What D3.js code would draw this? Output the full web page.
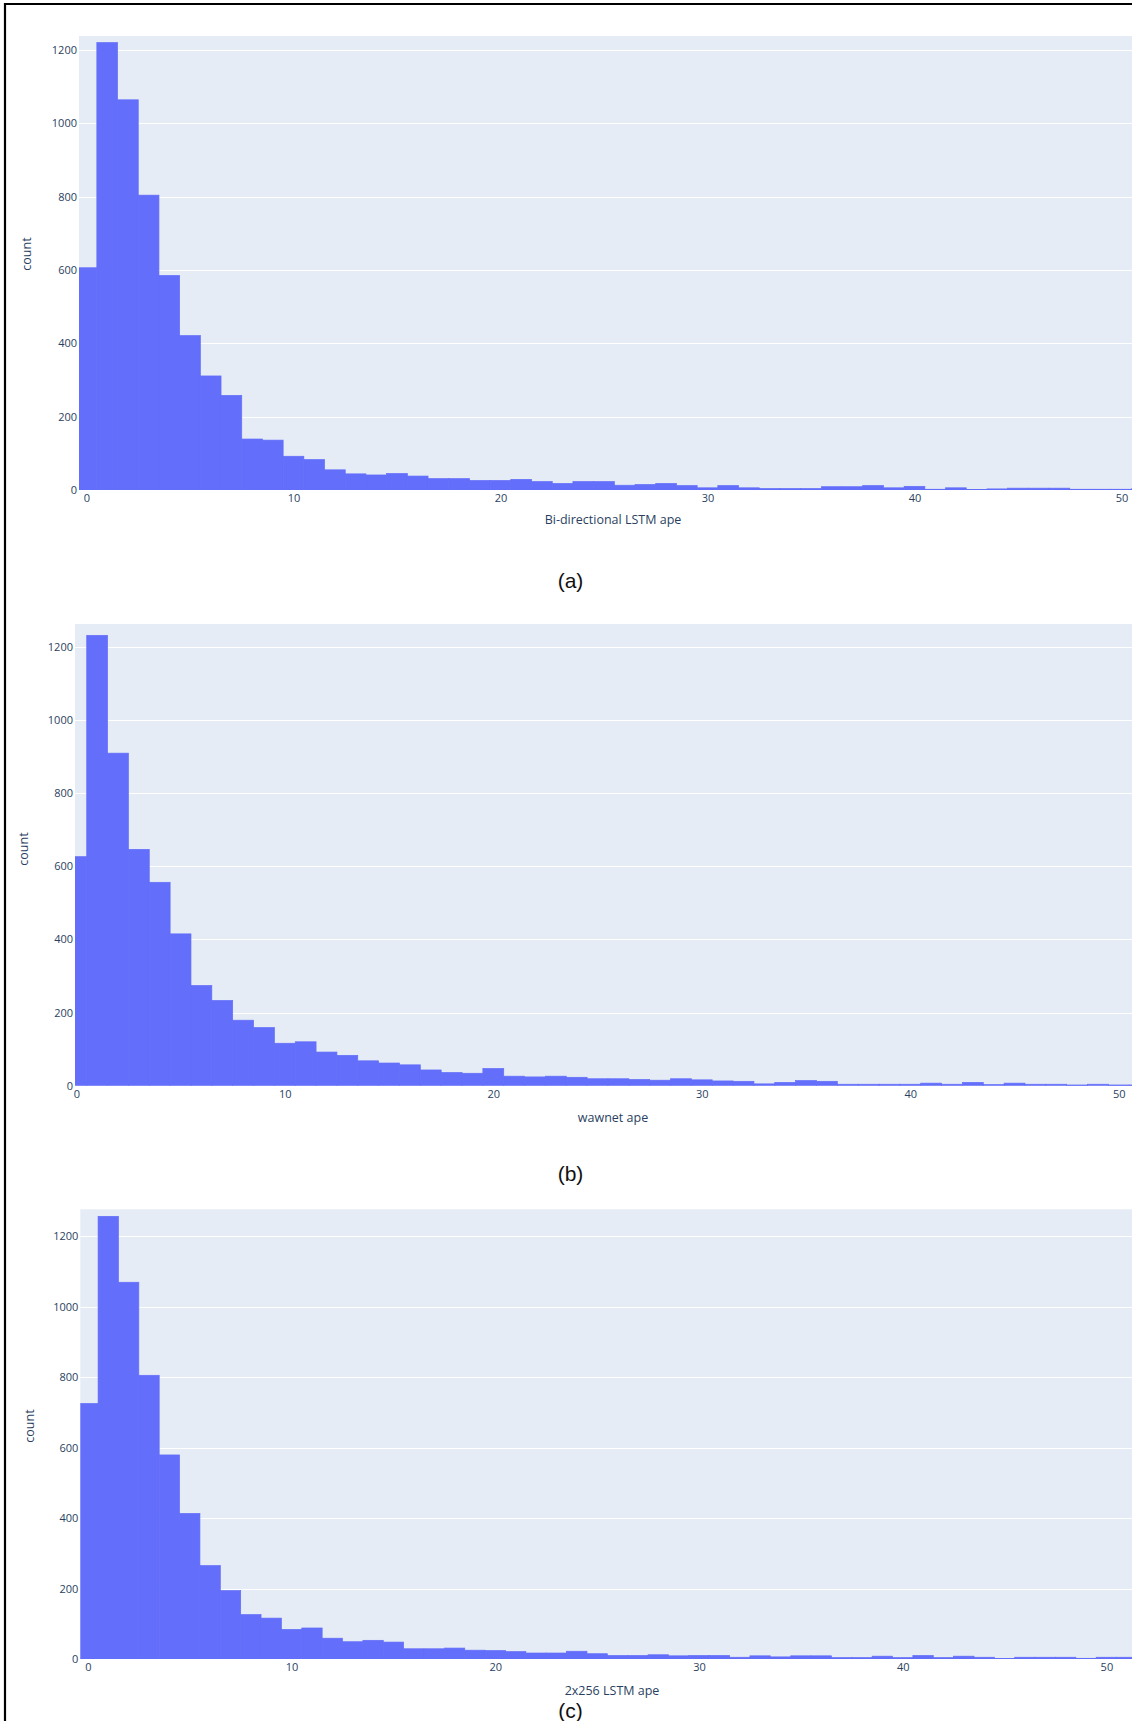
<!DOCTYPE html>
<html><head><meta charset="utf-8">
<script src="https://cdn.jsdelivr.net/npm/d3@7"></script>
<style>body{margin:0;background:#fff;overflow:hidden}</style>
</head><body>
<svg id="chart" width="1132" height="1721"></svg>
<script>
// ---- data ----
const binCenters = [0,1,2,3,4,5,6,7,8,9,10,11,12,13,14,15,16,17,18,19,20,21,22,23,24,25,
  26,27,28,29,30,31,32,33,34,35,36,37,38,39,40,41,42,43,44,45,46,47,48,49,50,51];
const binWidth = 1;

const bidirCounts = [606,1220,1064,804,585,421,311,258,139,136,92,83,55,44,41,45,38,31,31,26,26,29,23,18,23,23,
  13,15,18,12,6,12,6,4,4,4,9,9,12,6,10,2,6,1,3,5,5,5,2,2,2,4];
const wawnetCounts = [626,1231,909,646,556,415,274,233,179,159,116,120,92,83,68,62,57,43,36,34,47,26,24,26,23,19,
  19,17,15,19,16,13,12,5,9,14,12,4,4,4,4,7,4,9,3,7,4,4,2,4,2,2];
const lstm256Counts = [725,1256,1069,805,579,413,265,194,126,116,84,88,59,49,53,48,29,29,31,25,24,21,17,17,22,15,
  10,10,12,9,10,10,5,9,6,9,9,4,4,8,4,10,4,8,5,1,5,5,5,2,5,5];

const xTicks = [0,10,20,30,40,50];
const yTicks = [0,200,400,600,800,1000,1200];
const xTitles = ["Bi-directional LSTM ape","wawnet ape","2x256 LSTM ape"];
const captions = ["(a)","(b)","(c)"];
const yTitle = "count";

// ---- layout ----
const W = 1132, H = 1721;
const layout = [
  {left:79,   top:36,     bottom:490,    xmin:-0.362, ppu:20.70, ymax:1238, countX:26.7, countY:254,  titleX:613, titleY:519,  capY:588},
  {left:75,   top:624,    bottom:1085.7, xmin:-0.062, ppu:20.85, ymax:1262, countX:23.5, countY:849,  titleX:613, titleY:1117, capY:1181},
  {left:80.3, top:1209.3, bottom:1659,   xmin:-0.373, ppu:20.37, ymax:1276, countX:29.3, countY:1426, titleX:612, titleY:1690, capY:1718}
];
const seriesList = [bidirCounts, wawnetCounts, lstm256Counts];

const svg = d3.select("#chart");
svg.append("rect").attr("width",W).attr("height",H).attr("fill","#fff");

const tickColor = "#2a3f5f";
const fontFam = "'Open Sans', 'Noto Sans', Arial, sans-serif";

layout.forEach((L, p) => {
  const counts = seriesList[p];
  const x = d3.scaleLinear().domain([L.xmin, L.xmin + (W - L.left) / L.ppu]).range([L.left, W]);
  const y = d3.scaleLinear().domain([0, L.ymax]).range([L.bottom, L.top]);
  const g = svg.append("g");

  const clipId = "clip" + p;
  svg.append("clipPath").attr("id", clipId).append("rect")
    .attr("x", L.left).attr("y", L.top).attr("width", W - L.left).attr("height", L.bottom - L.top);

  g.append("rect").attr("x", L.left).attr("y", L.top)
    .attr("width", W - L.left).attr("height", L.bottom - L.top).attr("fill", "#E5ECF6");

  // gridlines
  g.append("g").selectAll("line").data(yTicks.filter(d => d > 0)).join("line")
    .attr("x1", L.left).attr("x2", W)
    .attr("y1", d => Math.round(y(d)) + 0.5).attr("y2", d => Math.round(y(d)) + 0.5)
    .attr("stroke", "#fff").attr("stroke-width", 1);

  // bars
  g.append("g").attr("clip-path", `url(#${clipId})`)
    .selectAll("rect").data(binCenters.map((c, i) => ({c, v: counts[i]}))).join("rect")
    .attr("x", d => x(d.c - binWidth / 2))
    .attr("width", d => x(d.c + binWidth / 2) - x(d.c - binWidth / 2))
    .attr("y", d => y(d.v))
    .attr("height", d => L.bottom - y(d.v))
    .attr("fill", "#636efa")
    .attr("stroke", "#636efa").attr("stroke-width", 0.7);

  // y axis
  const ya = g.append("g").attr("transform", `translate(${L.left},0)`)
    .call(d3.axisLeft(y).tickValues(yTicks).tickSize(0).tickPadding(2).tickFormat(d3.format("d")));
  ya.select(".domain").remove();
  ya.selectAll("text").attr("fill", tickColor).style("font-family", fontFam).style("font-size", "11px");

  // x axis
  const xa = g.append("g").attr("transform", `translate(0,${L.bottom})`)
    .call(d3.axisBottom(x).tickValues(xTicks).tickSize(0).tickPadding(4).tickFormat(d3.format("d")));
  xa.select(".domain").remove();
  xa.selectAll("text").attr("fill", tickColor).style("font-family", fontFam).style("font-size", "11px");

  // axis titles
  g.append("text").attr("x", L.titleX).attr("y", L.titleY)
    .attr("text-anchor", "middle").attr("dominant-baseline", "central")
    .attr("fill", tickColor).style("font-family", fontFam).style("font-size", "12.5px")
    .text(xTitles[p]);
  g.append("text").attr("transform", `translate(${L.countX},${L.countY}) rotate(-90)`)
    .attr("text-anchor", "middle").attr("dominant-baseline", "central")
    .attr("fill", tickColor).style("font-family", fontFam).style("font-size", "12.5px")
    .text(yTitle);

  // caption
  g.append("text").attr("x", 570.5).attr("y", L.capY)
    .attr("text-anchor", "middle")
    .attr("fill", "#111").style("font-family", "'Liberation Sans', Arial, sans-serif").style("font-size", "21px")
    .text(captions[p]);
});

// outer frame (left and top edges visible)
svg.append("line").attr("x1", 5).attr("x2", 5).attr("y1", 3).attr("y2", H).attr("stroke", "#000").attr("stroke-width", 2.2);
svg.append("line").attr("x1", 4).attr("x2", W).attr("y1", 4).attr("y2", 4).attr("stroke", "#000").attr("stroke-width", 2.2);
</script>
</body></html>
